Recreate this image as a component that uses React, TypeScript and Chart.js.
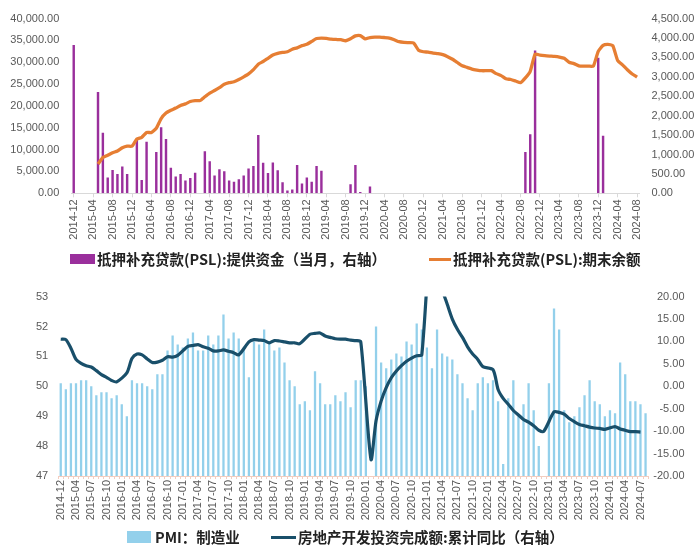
import React, { useEffect, useRef } from "react";
import { Chart, registerables } from "chart.js";

Chart.register(...registerables);

const NUM_FONT = '"Liberation Sans", Arial, sans-serif';
const CJK_FONT = '"Noto Sans CJK SC", "Noto Sans", sans-serif';
const TICK_COLOR = "#595959";
const PURPLE = "#9A2F9C";
const ORANGE = "#E67E33";
const LIGHT_BLUE = "#93D0EB";
const DARK_TEAL = "#194F6A";

function monthRange(start: string, end: string, skip: string[] = []): string[] {
  const out: string[] = [];
  let [y, m] = start.split("-").map(Number);
  const [ey, em] = end.split("-").map(Number);
  while (y < ey || (y === ey && m <= em)) {
    const s = `${y}-${String(m).padStart(2, "0")}`;
    if (!skip.includes(s)) out.push(s);
    m += 1;
    if (m > 12) { m = 1; y += 1; }
  }
  return out;
}

// ---------- Top chart: PSL ----------
const pslMonths = monthRange("2014-12", "2024-08"); // 117 months

// PSL funds provided in the month (right axis, 亿元)
const pslProvided: (number | null)[] = [
  3820,
  null, null, null, null, 2610, 1560, 410, 600, 500, 690, 495, null,
  1400, 345, 1325, null, 1065, 1700, 1400, 660, 430, 495, 330, 395,
  530, null, 1080, 825, 460, 620, 570, 330, 300, 360, 460, 640,
  705, 1500, 790, 520, 795, 595, 285, 75, 100, 730, 250, 410,
  300, 705, 580, null, null, null, null, null, 230, 730, 35, null,
  175, null, null, null, null, null, null, null, null, null, null, null,
  null, null, null, null, null, null, null, null, null, null, null, null,
  null, null, null, null, null, null, null, null, 1065, 1520, 3680, null,
  null, null, null, null, null, null, null, null, null, null, null, 3490,
  1480, null, null, null, null, null, null, null,
];

// PSL outstanding balance at period end (left axis, 亿元)
const pslBalance: (number | null)[] = [
  null,
  null, null, null, null, 6700, 8180, 8720, 9300, 9680, 10420, 10800, 10800,
  12430, 12810, 13920, 13920, 14890, 17120, 18390, 19000, 19510, 20120, 20470, 21010,
  21230, 21230, 22100, 22930, 23540, 24200, 24950, 25320, 25550, 26060, 26660, 27330,
  28300, 29570, 30170, 30910, 31650, 32030, 32250, 32410, 33000, 33300, 33820, 34110,
  34780, 35450, 35540, 35450, 35310, 35220, 35160, 34930, 35380, 36050, 36120, 35380,
  35670, 35760, 35760, 35670, 35540, 35160, 34710, 34550, 34490, 34420, 32760, 32410,
  32320, 32090, 31960, 31740, 31290, 30690, 29950, 29190, 28830, 28450, 28230, 28070,
  28070, 28070, 27400, 26950, 26220, 26060, 25700, 25320, 26440, 27940, 31870, 31650,
  31510, 31420, 31350, 31200, 30910, 30000, 29700, 29190, 29120, 29120, 29120, 32500,
  33880, 34110, 33820, 30400, 29410, 28300, 27330, 26600,
];

const pslLegend = ["抵押补充贷款(PSL):提供资金（当月，右轴）", "抵押补充贷款(PSL):期末余额"];

// ---------- Bottom chart: PMI & real estate investment ----------
const macroMonths = monthRange("2014-12", "2024-08", ["2015-01"]); // 116 categories

const pmiManufacturing: number[] = [
  50.1,
  49.9, 50.1, 50.1, 50.2, 50.2, 50.0, 49.7, 49.8, 49.8, 49.6, 49.7,
  49.4, 49.0, 50.2, 50.1, 50.1, 50.0, 49.9, 50.4, 50.4, 51.2, 51.7, 51.4,
  51.3, 51.6, 51.8, 51.2, 51.2, 51.7, 51.4, 51.7, 52.4, 51.6, 51.8, 51.6,
  51.3, 50.3, 51.5, 51.4, 51.9, 51.5, 51.2, 51.3, 50.8, 50.2, 50.0, 49.4,
  49.5, 49.2, 50.5, 50.1, 49.4, 49.4, 49.7, 49.5, 49.8, 49.3, 50.2, 50.2,
  50.0, 35.7, 52.0, 50.8, 50.6, 50.9, 51.1, 51.0, 51.5, 51.4, 52.1, 51.9,
  51.3, 50.6, 51.9, 51.1, 51.0, 50.9, 50.4, 50.1, 49.6, 49.2, 50.1, 50.3,
  50.1, 50.2, 49.5, 47.4, 49.6, 50.2, 49.0, 49.4, 50.1, 49.2, 48.0, 47.0,
  50.1, 52.6, 51.9, 49.2, 48.8, 49.0, 49.3, 49.7, 50.2, 49.5, 49.4, 49.0,
  49.2, 49.1, 50.8, 50.4, 49.5, 49.5, 49.4, 49.1,
];

const realEstateInvestYoY: (number | null)[] = [
  10.5,
  10.4, 8.5, 6.0, 5.1, 4.6, 4.3, 3.5, 2.6, 2.0, 1.3, 1.0,
  null, 3.0, 6.2, 7.2, 7.0, 6.1, 5.3, 5.4, 5.8, 6.6, 6.5, 6.9,
  null, 8.9, 9.1, 9.3, 8.8, 8.5, 7.9, 7.9, 8.1, 7.8, 7.5, 7.0,
  null, 9.9, 10.4, 10.3, 10.2, 9.7, 10.2, 10.1, 9.9, 9.7, 9.7, 9.5,
  null, 11.6, 11.8, 11.9, 11.2, 10.9, 10.6, 10.5, 10.5, 10.3, 10.2, 9.9,
  null, -16.3, -7.7, -3.3, -0.3, 1.9, 3.4, 4.6, 5.6, 6.3, 6.8, 7.0,
  null, 38.3, 25.6, 21.6, 18.3, 15.0, 12.7, 10.9, 8.8, 7.2, 6.0, 4.4,
  null, 3.7, -0.7, -2.7, -4.0, -5.4, -6.4, -7.4, -8.0, -8.8, -9.8, -10.0,
  null, -5.7, -5.8, -6.2, -7.2, -7.9, -8.5, -8.8, -9.1, -9.3, -9.4, -9.6,
  null, -9.0, -9.5, -9.8, -10.1, -10.1, -10.2, null,
];

const macroLegend = ["PMI：制造业", "房地产开发投资完成额:累计同比（右轴）"];

const fmt2 = (v: number) =>
  Number(v).toLocaleString("en-US", { minimumFractionDigits: 2, maximumFractionDigits: 2 });

const tickFont = { family: NUM_FONT, size: 11 };

export default function App() {
  const topRef = useRef<HTMLCanvasElement>(null);
  const botRef = useRef<HTMLCanvasElement>(null);

  useEffect(() => {
    const top = new Chart(topRef.current as HTMLCanvasElement, {
      type: "bar",
      data: {
        labels: pslMonths,
        datasets: [
          {
            type: "line",
            label: pslLegend[1],
            data: pslBalance,
            yAxisID: "y",
            borderColor: ORANGE,
            borderWidth: 3.3,
            pointRadius: 0,
            tension: 0.15,
            order: 0,
          } as any,
          {
            type: "bar",
            label: pslLegend[0],
            data: pslProvided,
            yAxisID: "y1",
            backgroundColor: PURPLE,
            barPercentage: 0.5,
            categoryPercentage: 1,
            order: 1,
          } as any,
        ],
      },
      options: {
        responsive: false,
        animation: false,
        layout: { padding: { left: 0, right: 0, top: 14.3, bottom: 34.7 } },
        plugins: { legend: { display: false }, tooltip: { enabled: false } },
        scales: {
          x: {
            offset: true,
            grid: { display: true, drawOnChartArea: false, drawTicks: true, tickLength: 4, color: "#D9D9D9", offset: false },
            border: { display: true, color: "#D9D9D9" },
            ticks: {
              autoSkip: false,
              minRotation: 90,
              maxRotation: 90,
              padding: 2,
              color: TICK_COLOR,
              font: tickFont,
              callback: (_v: any, i: number) => (i % 4 === 0 ? pslMonths[i] : null),
            },
            afterFit: (s: any) => { s.height = 52; },
          },
          y: {
            position: "left",
            min: 0,
            max: 40000,
            grid: { display: false, drawTicks: false },
            border: { display: false },
            ticks: { stepSize: 5000, padding: 12, color: TICK_COLOR, font: tickFont, callback: (v: any) => fmt2(v) },
            afterFit: (s: any) => { s.width = 71.3; },
          },
          y1: {
            position: "right",
            min: 0,
            max: 4500,
            grid: { display: false, drawTicks: false },
            border: { display: false },
            ticks: { stepSize: 500, padding: 12, color: TICK_COLOR, font: tickFont, callback: (v: any) => fmt2(v) },
            afterFit: (s: any) => { s.width = 60.5; },
          },
        },
      } as any,
    });

    const bot = new Chart(botRef.current as HTMLCanvasElement, {
      type: "bar",
      data: {
        labels: macroMonths,
        datasets: [
          {
            type: "line",
            label: macroLegend[1],
            data: realEstateInvestYoY,
            yAxisID: "y1",
            borderColor: DARK_TEAL,
            borderWidth: 3.2,
            pointRadius: 0,
            tension: 0.25,
            spanGaps: true,
            clip: 0,
            order: 0,
          } as any,
          {
            type: "bar",
            label: macroLegend[0],
            data: pmiManufacturing,
            yAxisID: "y",
            backgroundColor: LIGHT_BLUE,
            barPercentage: 0.45,
            categoryPercentage: 1,
            clip: 0,
            order: 1,
          } as any,
        ],
      },
      options: {
        responsive: false,
        animation: false,
        layout: { padding: { left: 0, right: 15.5, top: 13.3, bottom: 34 } },
        plugins: { legend: { display: false }, tooltip: { enabled: false } },
        scales: {
          x: {
            offset: true,
            grid: { display: true, drawOnChartArea: false, drawTicks: true, tickLength: 3, color: "#F3CDBF" },
            border: { display: true, color: "#F3CDBF" },
            ticks: {
              autoSkip: false,
              minRotation: 90,
              maxRotation: 90,
              padding: 1,
              color: TICK_COLOR,
              font: tickFont,
              callback: (_v: any, i: number) => (i % 3 === 0 ? macroMonths[i] : ""),
            },
            afterFit: (s: any) => { s.height = 50; },
          },
          y: {
            position: "left",
            min: 47,
            max: 53,
            grid: { display: false, drawTicks: false },
            border: { display: false },
            ticks: { stepSize: 1, padding: 10, color: TICK_COLOR, font: tickFont },
            afterFit: (s: any) => { s.width = 58.2; },
          },
          y1: {
            position: "right",
            min: -20,
            max: 20,
            grid: { display: false, drawTicks: false },
            border: { display: false },
            ticks: {
              stepSize: 5,
              padding: 4,
              crossAlign: "far",
              color: TICK_COLOR,
              font: tickFont,
              callback: (v: any) => Number(v).toFixed(2),
            },
            afterFit: (s: any) => { s.width = 36.4; },
          },
        },
      } as any,
    });

    return () => {
      top.destroy();
      bot.destroy();
    };
  }, []);

  const legendText: React.CSSProperties = {
    fontFamily: CJK_FONT,
    fontWeight: 700,
    fontSize: 14.5,
    color: "#222",
    whiteSpace: "nowrap",
    lineHeight: "20px",
  };
  const item = (left: number, top: number): React.CSSProperties => ({
    position: "absolute",
    left,
    top,
    height: 20,
    display: "flex",
    alignItems: "center",
  });

  return (
    <div style={{ position: "fixed", left: 0, top: 0, width: 700, height: 560, background: "#fff", overflow: "hidden" }}>
      <canvas ref={topRef} width={700} height={280} style={{ position: "absolute", left: 0, top: 0, width: 700, height: 280 }} />
      <canvas ref={botRef} width={700} height={280} style={{ position: "absolute", left: 0, top: 280, width: 700, height: 280 }} />

      <div style={item(70, 249)}>
        <span style={{ display: "inline-block", width: 25, height: 10, background: PURPLE, marginRight: 2 }} />
        <span style={legendText}>{pslLegend[0]}</span>
      </div>
      <div style={item(429, 249)}>
        <span style={{ display: "inline-block", width: 22, height: 3, background: ORANGE, marginRight: 2 }} />
        <span style={legendText}>{pslLegend[1]}</span>
      </div>

      <div style={item(127, 527)}>
        <span style={{ display: "inline-block", width: 24, height: 12, background: LIGHT_BLUE, marginRight: 4 }} />
        <span style={legendText}>{macroLegend[0]}</span>
      </div>
      <div style={item(271, 527)}>
        <span style={{ display: "inline-block", width: 25, height: 3, background: DARK_TEAL, marginRight: 2 }} />
        <span style={legendText}>{macroLegend[1]}</span>
      </div>
    </div>
  );
}
